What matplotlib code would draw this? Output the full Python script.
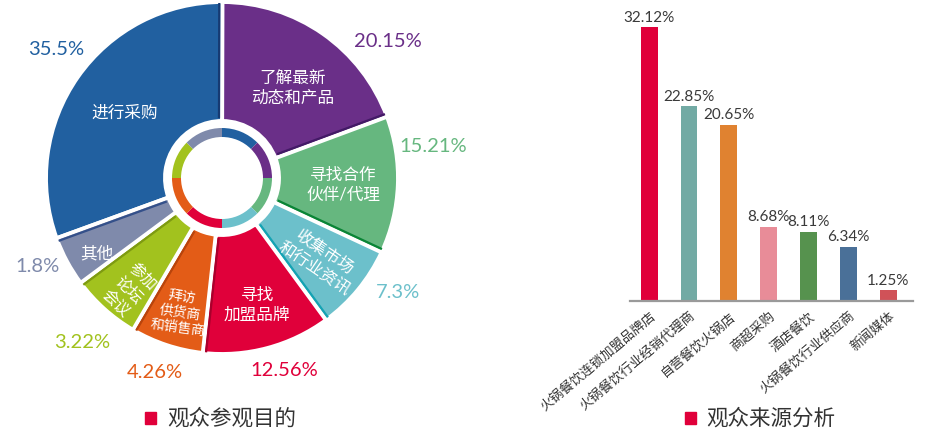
import numpy as np
import matplotlib.pyplot as plt
from matplotlib.patches import Rectangle

plt.rcParams["font.family"] = ["Lato", "Noto Sans CJK SC", "DejaVu Sans"]

W, H = 929, 436

# left: 观众参观目的
purpose_labels = [
    "进行采购", "了解最新\n动态和产品", "寻找合作\n伙伴/代理", "收集市场\n和行业资讯",
    "寻找\n加盟品牌", "拜访\n供货商\n和销售商", "参加\n论坛\n会议", "其他",
]
purpose_pct = ["35.5%", "20.15%", "15.21%", "7.3%", "12.56%", "4.26%", "3.22%", "1.8%"]
# wedge sizes as drawn in the graphic (not proportional to the printed numbers)
purpose_share = [30.6, 19.3, 12.6, 8.0, 11.8, 6.7, 6.4, 4.6]
purpose_colors = ["#2160a0", "#6a2f88", "#66b77f", "#6cc0cb",
                  "#e0003a", "#e35c17", "#a2c21e", "#7f8aab"]
edge_colors = ["#163a72", "#431a66", "#0a8536", "#14a3b3",
               "#a8002c", "#b8440c", "#7e9a12", "#34508a"]

# right: 观众来源分析
source_labels = ["火锅餐饮连锁加盟品牌店", "火锅餐饮行业经销代理商", "自营餐饮火锅店",
                 "商超采购", "酒店餐饮", "火锅餐饮行业供应商", "新闻媒体"]
source_values = [32.12, 22.85, 20.65, 8.68, 8.11, 6.34, 1.25]
source_colors = ["#e0003a", "#72aaa4", "#e08230", "#e88c98",
                 "#56924e", "#4a7098", "#d05258"]

# label layout in pixel coords (x, y from top, rotation, size)
pct_pos = [(56, 50), (388, 42), (433, 147), (398, 292),
           (284, 370), (155, 372), (82, 342), (37, 267)]
inner_pos = [(125, 113, 0, 12), (293, 88, 0, 12), (343, 185, 0, 12), (320, 260, -34, 12),
             (257, 305, 0, 12), (180, 312, -8, 10), (129, 290, -45, 11.5), (97, 253, 0, 12)]

fig = plt.figure(figsize=(W / 100, H / 100), dpi=100)

# ---- donut ----
ax1 = fig.add_axes([0, 0, 470 / W, 1])
cx, cy, r_out, r_in = 222, H - 178, 176, 57
wedges, _ = ax1.pie(purpose_share, colors=purpose_colors, startangle=200, counterclock=False,
                    center=(cx, cy), radius=r_out,
                    wedgeprops=dict(width=r_out - r_in, edgecolor="white", linewidth=2.8))
# darker shadow line on the clockwise edge of every wedge
for w, ec in zip(wedges, edge_colors):
    th = np.deg2rad(min(w.theta1, w.theta2))
    nx, ny = -np.sin(th), np.cos(th)
    off = 3.2
    xs = [cx + r * np.cos(th) + off * nx for r in (r_in + 3, r_out - 1)]
    ys = [cy + r * np.sin(th) + off * ny for r in (r_in + 3, r_out - 1)]
    ax1.plot(xs, ys, color=ec, lw=1.6, solid_capstyle="butt", zorder=3)
# decorative inner ring
ax1.pie([1] * len(purpose_colors), colors=purpose_colors, startangle=90, counterclock=False,
        center=(cx, cy), radius=50, wedgeprops=dict(width=9, linewidth=0))
ax1.set_xlim(0, 470)
ax1.set_ylim(0, H)
ax1.set_axis_off()

for (x, y), txt, col in zip(pct_pos, purpose_pct, purpose_colors):
    ax1.text(x, H - y, txt, color=col, fontsize=14.5, ha="center", va="center")

# inner labels: one text per line so rotated blocks keep an even line step
for (x, y, rot, fs), txt in zip(inner_pos, purpose_labels):
    lines = txt.split("\n")
    step = fs * 1.389 * 1.15
    a = np.deg2rad(rot)
    dx, dy = np.sin(a), -np.cos(a)
    for k, line in enumerate(lines):
        o = (k - (len(lines) - 1) / 2) * step
        ax1.text(x + o * dx, H - y + o * dy, line, color="white", fontsize=fs,
                 ha="center", va="center", rotation=rot, rotation_mode="anchor")

# ---- bars ----
ax2 = fig.add_axes([630 / W, (H - 301) / H, 283 / W, 301 / H])
pos = range(len(source_values))
ax2.bar(pos, source_values, width=0.425, color=source_colors)
for i, v in enumerate(source_values):
    ax2.text(i, v + 0.3, f"{v:.2f}%", ha="center", va="bottom",
             fontsize=11, color="#3a3a3a")
ax2.set_xlim(-0.48, 6.62)
ax2.set_ylim(0, 35.3)
ax2.set_xticks(list(pos))
ax2.set_xticklabels(source_labels, rotation=40, ha="right", va="top",
                    rotation_mode="anchor", fontsize=9.5, color="#333333")
ax2.tick_params(axis="x", length=0, pad=6)
ax2.set_yticks([])
for s in ["left", "right", "top"]:
    ax2.spines[s].set_visible(False)
ax2.spines["bottom"].set_color("#9a9a9a")
ax2.spines["bottom"].set_linewidth(1.6)
ax2.patch.set_alpha(0)

# ---- titles ----
for sq_x, txt_x, title in [(145, 167, "观众参观目的"), (685, 706, "观众来源分析")]:
    fig.add_artist(Rectangle((sq_x / W, (H - 424) / H), 11 / W, 12 / H,
                             color="#e0003a", transform=fig.transFigure))
    fig.text(txt_x / W, (H - 418) / H, title, fontsize=15.5, color="#333333",
             ha="left", va="center")

fig.savefig("out.png", dpi=100)
